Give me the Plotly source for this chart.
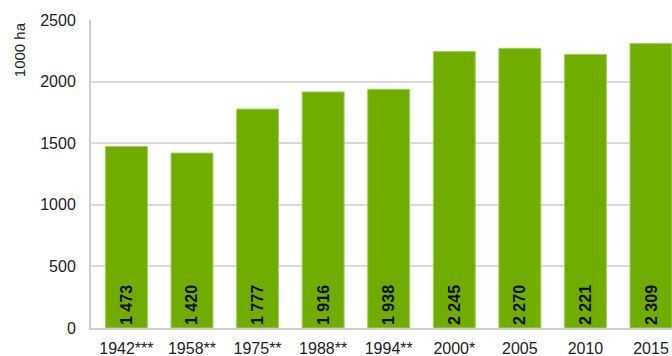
import plotly.graph_objects as go

categories = ["1942***", "1958**", "1975**", "1988**", "1994**", "2000*", "2005", "2010", "2015"]
values = [1473, 1420, 1777, 1916, 1938, 2245, 2270, 2221, 2309]
y_ticks = [0, 500, 1000, 1500, 2000, 2500]

labels = [f"{v:,}".replace(",", " ") for v in values]

font_family = "Liberation Sans, Arial, sans-serif"

fig = go.Figure(
    go.Bar(
        x=categories,
        y=values,
        text=labels,
        textposition="inside",
        insidetextanchor="start",
        textangle=-90,
        textfont=dict(family=font_family, size=16, color="#111111", weight="bold"),
        marker=dict(color="#70ad00", line=dict(color="#a3cf5e", width=1)),
        cliponaxis=False,
        constraintext="none",
    )
)

fig.update_layout(
    width=672,
    height=356,
    margin=dict(l=91, r=0, t=20, b=28),
    paper_bgcolor="white",
    plot_bgcolor="white",
    bargap=0.36,
    showlegend=False,
    font=dict(family=font_family, size=16, color="#222222"),
    xaxis=dict(
        type="category",
        range=[-0.54, 8.32],
        showgrid=False,
        showline=True,
        linecolor="#cfcfcf",
        linewidth=2,
        ticks="",
        ticklabelstandoff=5,
        tickfont=dict(size=16, color="#222222"),
    ),
    yaxis=dict(
        range=[0, 2500],
        tickvals=y_ticks,
        ticktext=[str(t) for t in y_ticks],
        showgrid=True,
        gridcolor="#dadada",
        gridwidth=1.5,
        showline=True,
        linecolor="#cfcfcf",
        linewidth=2,
        ticks="",
        ticklabelstandoff=10,
        tickfont=dict(size=16, color="#222222"),
        zeroline=False,
    ),
    annotations=[
        dict(
            text="1000 ha",
            xref="paper",
            yref="paper",
            x=-0.124,
            y=0.905,
            xanchor="center",
            yanchor="middle",
            textangle=-90,
            showarrow=False,
            font=dict(family=font_family, size=15, color="#222222"),
        )
    ],
)

fig.write_html("out.html")
